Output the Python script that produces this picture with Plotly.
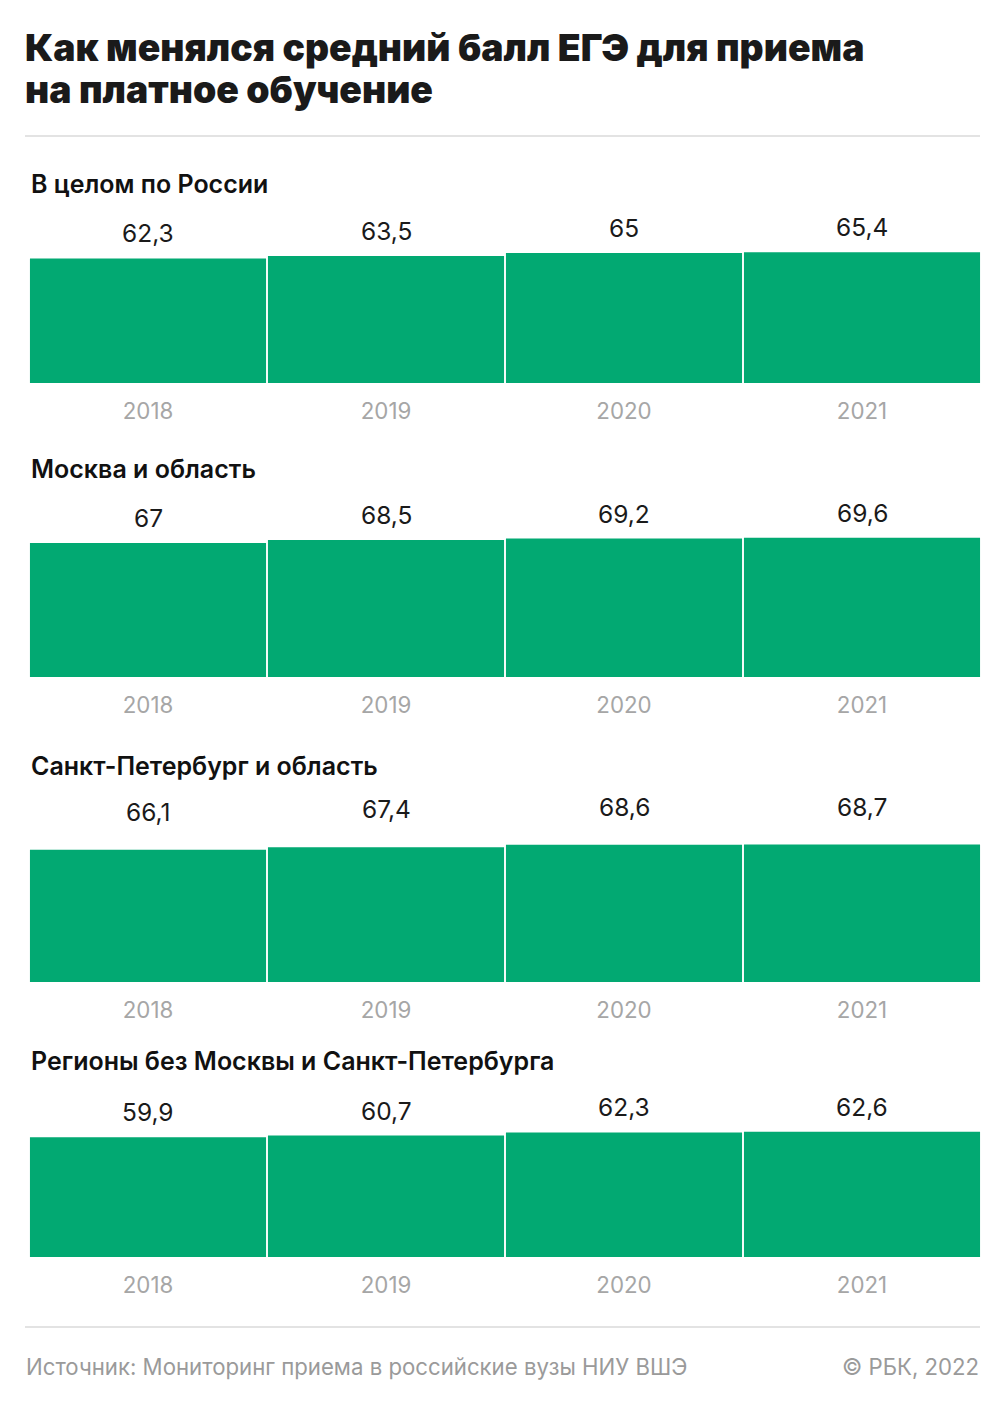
import plotly.graph_objects as go

# ---- data ----
years = [2018, 2019, 2020, 2021]
year_labels = ["2018", "2019", "2020", "2021"]
panel_titles = [
    "В целом по России",
    "Москва и область",
    "Санкт-Петербург и область",
    "Регионы без Москвы и Санкт-Петербурга",
]
russia = [62.3, 63.5, 65.0, 65.4]
moscow = [67.0, 68.5, 69.2, 69.6]
spb = [66.1, 67.4, 68.6, 68.7]
regions = [59.9, 60.7, 62.3, 62.6]
series = [russia, moscow, spb, regions]

title_lines = ["Как менялся средний балл ЕГЭ для приема", "на платное обучение"]
source_text = "Источник: Мониторинг приема в российские вузы НИУ ВШЭ"
copyright_text = "© РБК, 2022"

# ---- layout constants ----
PAGE_OFF = 8                      # default body margin of the html page
W, H = 1005 - 2 * PAGE_OFF, 1408 - 2 * PAGE_OFF
GREEN = "#02A972"
FONT = "Inter"
bar_bottoms = [383, 677, 982, 1257]   # page pixels
title_ys = [184, 469, 766, 1061]
label_shifts = [8, 8, 21, 8]
YMAX = 80
PX_PER_UNIT = 2.0


def px(xpage):
    return (xpage - PAGE_OFF) / W


def py(ypage):
    return 1 - (ypage - PAGE_OFF) / H


def fmt(v):
    s = f"{v:.1f}"
    if s.endswith(".0"):
        s = s[:-2]
    return s.replace(".", ",")


fig = go.Figure()
annotations = []
layout_axes = {}

for i, vals in enumerate(series):
    n = "" if i == 0 else str(i + 1)
    xa, ya = "x" + n, "y" + n
    fig.add_trace(go.Bar(
        x=years, y=vals, xaxis=xa, yaxis=ya,
        marker=dict(color=GREEN, line=dict(width=0)),
        hoverinfo="skip", showlegend=False,
    ))
    b = bar_bottoms[i]
    top = b - YMAX * PX_PER_UNIT
    layout_axes["xaxis" + n] = dict(
        domain=[px(29), px(981)], anchor=ya, type="linear",
        range=[years[0] - 0.5, years[-1] + 0.5],
        tickvals=years, ticktext=year_labels,
        showgrid=False, zeroline=False, showline=False, automargin=False,
        ticks="outside", ticklen=8, tickcolor="rgba(0,0,0,0)",
        tickfont=dict(family=FONT, size=22.3, color="#a6a6a6"),
        fixedrange=True,
    )
    layout_axes["yaxis" + n] = dict(
        domain=[py(b), py(top)], anchor=xa, range=[0, YMAX],
        visible=False, fixedrange=True, automargin=False,
    )
    for yr, v in zip(years, vals):
        annotations.append(dict(
            x=yr, y=v, xref=xa, yref=ya, text=fmt(v), showarrow=False,
            yanchor="bottom", yshift=label_shifts[i],
            font=dict(family=FONT, size=24.5, color="#1a1a1a"),
        ))
    annotations.append(dict(
        x=px(29), y=py(title_ys[i]), xref="paper", yref="paper",
        text=panel_titles[i], showarrow=False, xanchor="left", yanchor="middle",
        font=dict(family=FONT, size=25, color="#111111", weight=600),
    ))

for line, ypx in zip(title_lines, [47, 89]):
    annotations.append(dict(
        x=px(23), y=py(ypx), xref="paper", yref="paper", text=line,
        showarrow=False, xanchor="left", yanchor="middle", align="left",
        font=dict(family=FONT, size=37.3, color="#1a1a1a", weight=900),
    ))
annotations.append(dict(
    x=px(24), y=py(1366), xref="paper", yref="paper", text=source_text,
    showarrow=False, xanchor="left", yanchor="middle",
    font=dict(family=FONT, size=22.2, color="#9a9a9a"),
))
annotations.append(dict(
    x=px(981), y=py(1366), xref="paper", yref="paper", text=copyright_text,
    showarrow=False, xanchor="right", yanchor="middle",
    font=dict(family=FONT, size=22.2, color="#9a9a9a"),
))

shapes = [
    dict(type="line", xref="paper", yref="paper", x0=px(25), x1=px(980),
         y0=py(136), y1=py(136), line=dict(color="#e3e3e3", width=2)),
    dict(type="line", xref="paper", yref="paper", x0=px(25), x1=px(980),
         y0=py(1327), y1=py(1327), line=dict(color="#e3e3e3", width=2)),
]

fig.update_layout(
    width=W, height=H,
    margin=dict(l=0, r=0, t=0, b=0, autoexpand=False),
    paper_bgcolor="white", plot_bgcolor="white",
    bargap=0.008,
    annotations=annotations, shapes=shapes,
    **layout_axes,
)

fig.write_html("out.html", config={"displayModeBar": False})
